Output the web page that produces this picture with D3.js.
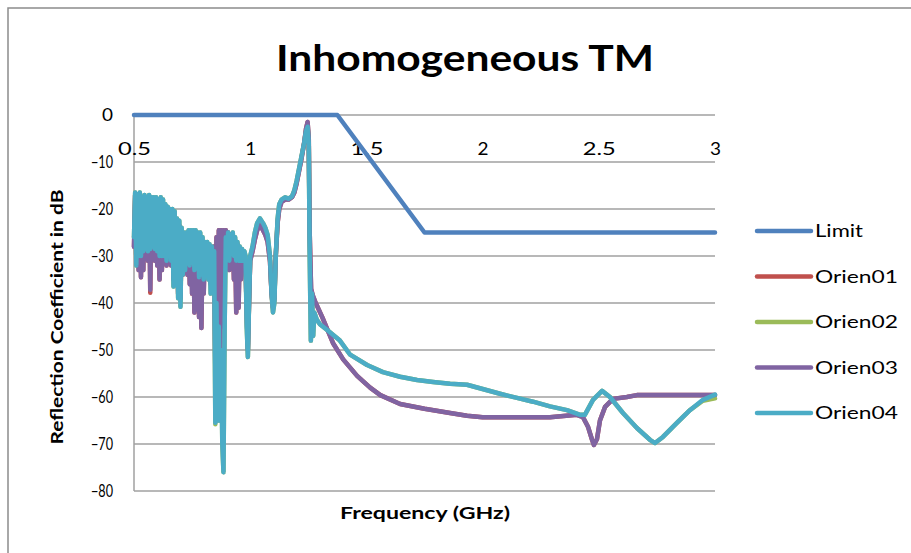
<!DOCTYPE html>
<html>
<head>
<meta charset="utf-8">
<script src="https://cdn.jsdelivr.net/npm/d3@7"></script>
<style>
  body { margin: 0; background: #fff; }
  svg { display: block; font-family: Lato, "Liberation Sans", sans-serif; }
</style>
</head>
<body>
<script>
// chart data
var seriesNames = ["Limit", "Orien01", "Orien02", "Orien03", "Orien04"];
var seriesColors = ["#4f81bd", "#c0504d", "#9bbb59", "#8064a2", "#4bacc6"];
var xTicks = [0.5, 1, 1.5, 2, 2.5, 3];
var yTicks = [0, -10, -20, -30, -40, -50, -60, -70, -80];

var limit = [[0.5, 0], [1.375, 0], [1.75, -25], [3, -25]];

var orien03 = [
  [0.500, -28], [0.505, -17], [0.510, -31], [0.515, -17.5], [0.520, -33], [0.525, -17], [0.530, -34.5], [0.535, -18],
  [0.540, -33], [0.545, -18], [0.550, -30], [0.555, -18], [0.560, -31], [0.565, -17.5], [0.570, -37.2], [0.575, -18],
  [0.580, -30], [0.585, -18], [0.590, -31], [0.595, -18], [0.600, -32], [0.605, -18.5], [0.610, -35], [0.615, -18],
  [0.620, -33], [0.625, -19], [0.630, -31], [0.635, -20], [0.640, -32], [0.645, -20.5], [0.650, -31], [0.655, -21],
  [0.660, -32], [0.665, -21], [0.670, -35], [0.675, -21.5], [0.680, -36], [0.685, -23], [0.690, -38], [0.695, -23.5],
  [0.700, -39], [0.705, -25], [0.710, -34], [0.715, -25.5], [0.720, -33], [0.725, -25.5], [0.730, -34], [0.735, -25],
  [0.740, -36], [0.745, -25], [0.750, -38], [0.755, -25], [0.760, -42], [0.765, -25], [0.770, -40], [0.775, -26],
  [0.780, -43], [0.785, -26], [0.790, -45.3], [0.795, -27], [0.800, -38], [0.805, -27.5], [0.810, -33], [0.815, -27.5],
  [0.820, -34], [0.825, -28], [0.830, -36], [0.835, -28.5], [0.840, -34], [0.845, -28], [0.850, -55], [0.855, -26],
  [0.860, -50], [0.865, -24.5], [0.870, -55], [0.875, -24.5], [0.880, -45], [0.885, -24.5], [0.890, -30], [0.895, -24.5],
  [0.900, -31], [0.905, -25], [0.910, -33], [0.915, -25.5], [0.920, -32], [0.925, -26], [0.930, -35], [0.935, -27],
  [0.940, -42], [0.945, -27.5], [0.950, -41], [0.955, -28.5], [0.960, -35], [0.965, -29], [0.970, -33], [0.975, -30],
  [0.980, -32], [0.985, -42], [0.990, -50], [0.995, -40], [1.000, -31], [1.010, -29], [1.020, -26.5], [1.030, -24.5],
  [1.042, -23.5], [1.055, -24.5], [1.065, -25.5], [1.075, -27], [1.085, -31], [1.092, -38], [1.098, -41], [1.104, -39],
  [1.110, -30], [1.118, -23], [1.125, -20], [1.135, -18.5], [1.150, -18], [1.165, -18], [1.180, -17.5], [1.190, -16.5],
  [1.200, -14.5], [1.210, -12], [1.220, -9.5], [1.232, -6], [1.240, -3], [1.247, -1.5], [1.252, -5], [1.256, -25],
  [1.262, -37], [1.270, -38.5], [1.282, -40], [1.310, -43], [1.356, -48.5], [1.400, -52], [1.460, -55.5], [1.516, -58],
  [1.560, -59.6], [1.645, -61.5], [1.750, -62.5], [1.860, -63.4], [1.933, -64], [2.000, -64.3], [2.150, -64.3], [2.290, -64.3],
  [2.406, -63.8], [2.432, -64.3], [2.454, -66.4], [2.471, -69.1], [2.479, -70.2], [2.492, -69], [2.505, -65], [2.527, -62.1],
  [2.561, -60.4], [2.621, -60], [2.664, -59.6], [2.800, -59.6], [3.000, -59.6]
];

// Orien01 sits almost exactly under Orien03
var orien01 = [
  [0.500, -28], [0.505, -17], [0.510, -31], [0.515, -17.5], [0.520, -33], [0.525, -17], [0.530, -34.5], [0.535, -18],
  [0.540, -33], [0.545, -18], [0.550, -30], [0.555, -18], [0.560, -31], [0.565, -17.5], [0.570, -37.8], [0.575, -18],
  [0.580, -30], [0.585, -18], [0.590, -31], [0.595, -18], [0.600, -32], [0.605, -18.5], [0.610, -35], [0.615, -18],
  [0.620, -33], [0.625, -19], [0.630, -31], [0.635, -20], [0.640, -32], [0.645, -20.5], [0.650, -31], [0.655, -21],
  [0.660, -32], [0.665, -21], [0.670, -35], [0.675, -21.5], [0.680, -36], [0.685, -23], [0.690, -38], [0.695, -23.5],
  [0.700, -39], [0.705, -25], [0.710, -34], [0.715, -25.5], [0.720, -33], [0.725, -25.5], [0.730, -34], [0.735, -25],
  [0.740, -36], [0.745, -25], [0.750, -38], [0.755, -25], [0.760, -42], [0.765, -25], [0.770, -40], [0.775, -26],
  [0.780, -43], [0.785, -26], [0.790, -45.3], [0.795, -27], [0.800, -38], [0.805, -27.5], [0.810, -33], [0.815, -27.5],
  [0.820, -34], [0.825, -28], [0.830, -36], [0.835, -28.5], [0.840, -34], [0.845, -28], [0.850, -55], [0.855, -26],
  [0.860, -50], [0.865, -24.5], [0.870, -55], [0.875, -24.5], [0.880, -45], [0.885, -24.5], [0.890, -30], [0.895, -24.5],
  [0.900, -31], [0.905, -25], [0.910, -33], [0.915, -25.5], [0.920, -32], [0.925, -26], [0.930, -35], [0.935, -27],
  [0.940, -42], [0.945, -27.5], [0.950, -41], [0.955, -28.5], [0.960, -35], [0.965, -29], [0.970, -33], [0.975, -30],
  [0.980, -32], [0.985, -42], [0.990, -50], [0.995, -40], [1.000, -31], [1.010, -29], [1.020, -26.5], [1.030, -24.5],
  [1.042, -23.5], [1.055, -24.5], [1.065, -25.5], [1.075, -27], [1.085, -31], [1.092, -38], [1.098, -41], [1.104, -39],
  [1.110, -30], [1.118, -23], [1.125, -20], [1.135, -18.5], [1.150, -18], [1.165, -18], [1.180, -17.5], [1.190, -16.5],
  [1.200, -14.5], [1.210, -12], [1.220, -9.5], [1.232, -6], [1.240, -3], [1.247, -1.5], [1.252, -5], [1.256, -25],
  [1.262, -37], [1.270, -38.5], [1.282, -40], [1.310, -43], [1.356, -48.5], [1.400, -52], [1.460, -55.5], [1.516, -58],
  [1.560, -59.6], [1.645, -61.5], [1.750, -62.5], [1.860, -63.4], [1.933, -64], [2.000, -64.3], [2.150, -64.3], [2.290, -64.3],
  [2.406, -63.8], [2.432, -64.3], [2.454, -66.4], [2.471, -69.1], [2.479, -70.2], [2.492, -69], [2.505, -65], [2.527, -62.1],
  [2.561, -60.4], [2.621, -60], [2.664, -59.6], [2.800, -59.6], [3.000, -59.6]
];

var orien04 = [
  [0.500, -26], [0.505, -16.5], [0.510, -32], [0.515, -17], [0.520, -30], [0.525, -16.5], [0.530, -30], [0.535, -17.5],
  [0.540, -29], [0.545, -17], [0.550, -28.5], [0.555, -17.5], [0.560, -29], [0.565, -17], [0.570, -28.5], [0.575, -17.5],
  [0.580, -28], [0.585, -17.5], [0.590, -28.5], [0.595, -17.5], [0.600, -29], [0.605, -18], [0.610, -30], [0.615, -17.5],
  [0.620, -30], [0.625, -18], [0.630, -30], [0.635, -19], [0.640, -31], [0.645, -19.5], [0.650, -30], [0.655, -20],
  [0.660, -31], [0.665, -20], [0.670, -36.5], [0.675, -20.5], [0.680, -36], [0.685, -22], [0.690, -39], [0.695, -22.5],
  [0.700, -40.8], [0.705, -24], [0.710, -34], [0.715, -25], [0.720, -33], [0.725, -25], [0.730, -31], [0.735, -24.5],
  [0.740, -32], [0.745, -24.5], [0.750, -30], [0.755, -24.5], [0.760, -33], [0.765, -24.5], [0.770, -32], [0.775, -25],
  [0.780, -34.5], [0.785, -25], [0.790, -33], [0.795, -26], [0.800, -35], [0.805, -27], [0.810, -32], [0.815, -27],
  [0.820, -35], [0.825, -27.5], [0.830, -38], [0.835, -28], [0.840, -36], [0.845, -29], [0.850, -65.5], [0.855, -40],
  [0.860, -65], [0.865, -45], [0.870, -65], [0.875, -50], [0.880, -70], [0.885, -76], [0.890, -45], [0.895, -26],
  [0.900, -30], [0.905, -25], [0.910, -31], [0.915, -25.5], [0.920, -29], [0.925, -25], [0.930, -30], [0.935, -26],
  [0.940, -31], [0.945, -27], [0.950, -31], [0.955, -28], [0.960, -31], [0.965, -28.5], [0.970, -31], [0.975, -29],
  [0.980, -30], [0.985, -45], [0.990, -51.5], [0.995, -40], [1.000, -30], [1.010, -28], [1.020, -25], [1.030, -23],
  [1.042, -22], [1.055, -23], [1.065, -24], [1.075, -25.5], [1.085, -30], [1.092, -38], [1.098, -42], [1.104, -40],
  [1.110, -30], [1.118, -22], [1.125, -19], [1.135, -18], [1.150, -17.5], [1.165, -17.8], [1.180, -17.3], [1.190, -16],
  [1.200, -14], [1.210, -11.5], [1.220, -9], [1.232, -6], [1.240, -3.5], [1.247, -2.5], [1.252, -6], [1.256, -30],
  [1.261, -48], [1.266, -38], [1.271, -47], [1.276, -42], [1.287, -43.6], [1.300, -44.5], [1.330, -45.7], [1.386, -48],
  [1.430, -51], [1.503, -53.2], [1.571, -54.7], [1.645, -55.7], [1.718, -56.4], [1.787, -56.8], [1.860, -57.2], [1.933, -57.4],
  [2.000, -58.3], [2.075, -59.3], [2.148, -60.2], [2.217, -61], [2.290, -62], [2.363, -62.8], [2.420, -63.8], [2.440, -63.8],
  [2.475, -60.6], [2.514, -58.7], [2.548, -60], [2.604, -63.4], [2.664, -66.6], [2.720, -69.1], [2.742, -69.8], [2.776, -68.5],
  [2.836, -65.5], [2.892, -62.8], [2.948, -60.6], [3.000, -59.5]
];

// Orien02 sits almost exactly under Orien04
var orien02 = [
  [0.500, -26], [0.505, -16.5], [0.510, -32], [0.515, -17], [0.520, -30], [0.525, -16.5], [0.530, -30], [0.535, -17.5],
  [0.540, -29], [0.545, -17], [0.550, -28.5], [0.555, -17.5], [0.560, -29], [0.565, -17], [0.570, -28.5], [0.575, -17.5],
  [0.580, -28], [0.585, -17.5], [0.590, -28.5], [0.595, -17.5], [0.600, -29], [0.605, -18], [0.610, -30], [0.615, -17.5],
  [0.620, -30], [0.625, -18], [0.630, -30], [0.635, -19], [0.640, -31], [0.645, -19.5], [0.650, -30], [0.655, -20],
  [0.660, -31], [0.665, -20], [0.670, -36.5], [0.675, -20.5], [0.680, -36], [0.685, -22], [0.690, -39], [0.695, -22.5],
  [0.700, -40.8], [0.705, -24], [0.710, -34], [0.715, -25], [0.720, -33], [0.725, -25], [0.730, -31], [0.735, -24.5],
  [0.740, -32], [0.745, -24.5], [0.750, -30], [0.755, -24.5], [0.760, -33], [0.765, -24.5], [0.770, -32], [0.775, -25],
  [0.780, -34.5], [0.785, -25], [0.790, -33], [0.795, -26], [0.800, -35], [0.805, -27], [0.810, -32], [0.815, -27],
  [0.820, -35], [0.825, -27.5], [0.830, -38], [0.835, -28], [0.840, -36], [0.845, -29], [0.850, -65.8], [0.855, -40],
  [0.860, -65], [0.865, -45], [0.870, -65], [0.875, -50], [0.880, -70], [0.885, -76], [0.890, -45], [0.895, -26],
  [0.900, -30], [0.905, -25], [0.910, -31], [0.915, -25.5], [0.920, -29], [0.925, -25], [0.930, -30], [0.935, -26],
  [0.940, -31], [0.945, -27], [0.950, -31], [0.955, -28], [0.960, -31], [0.965, -28.5], [0.970, -31], [0.975, -29],
  [0.980, -30], [0.985, -45], [0.990, -51.5], [0.995, -40], [1.000, -30], [1.010, -28], [1.020, -25], [1.030, -23],
  [1.042, -22], [1.055, -23], [1.065, -24], [1.075, -25.5], [1.085, -30], [1.092, -38], [1.098, -42], [1.104, -40],
  [1.110, -30], [1.118, -22], [1.125, -19], [1.135, -18], [1.150, -17.5], [1.165, -17.8], [1.180, -17.3], [1.190, -16],
  [1.200, -14], [1.210, -11.5], [1.220, -9], [1.232, -6], [1.240, -3.5], [1.247, -2.5], [1.252, -6], [1.256, -30],
  [1.261, -48], [1.266, -38], [1.271, -47], [1.276, -42], [1.287, -43.6], [1.300, -44.5], [1.330, -45.7], [1.386, -48],
  [1.430, -51], [1.503, -53.2], [1.571, -54.7], [1.645, -55.7], [1.718, -56.4], [1.787, -56.8], [1.860, -57.2], [1.933, -57.4],
  [2.000, -58.3], [2.075, -59.3], [2.148, -60.2], [2.217, -61], [2.290, -62], [2.363, -62.8], [2.420, -63.8], [2.440, -63.8],
  [2.475, -60.6], [2.514, -58.7], [2.548, -60], [2.604, -63.4], [2.664, -66.6], [2.720, -69.1], [2.742, -69.8], [2.776, -68.5],
  [2.836, -65.5], [2.892, -62.8], [2.948, -60.8], [3.000, -60.3]
];

var allSeries = [limit, orien01, orien02, orien03, orien04];
// rough widths of the legend labels in the picture
var legendWidths = [48, 83, 83, 83, 83];

var svgWidth = 911;
var svgHeight = 553;
var margin = { top: 115, right: 196, bottom: 62, left: 134 };
var width = svgWidth - margin.left - margin.right;
var height = svgHeight - margin.top - margin.bottom;

var svg = d3.select("body").append("svg")
    .attr("width", svgWidth)
    .attr("height", svgHeight);

// chart frame
svg.append("rect")
    .attr("x", 8).attr("y", 8)
    .attr("width", 920).attr("height", 560)
    .attr("fill", "none")
    .attr("stroke", "#8c8c8c")
    .attr("stroke-width", 1.5);

var chartGroup = svg.append("g")
    .attr("transform", `translate(${margin.left}, ${margin.top})`);

var xScale = d3.scaleLinear().domain([0.5, 3]).range([0, width]);
var yScale = d3.scaleLinear().domain([-80, 0]).range([height, 0]);

// gridlines
chartGroup.selectAll(".grid")
    .data(yTicks)
    .enter()
    .append("line")
    .attr("class", "grid")
    .attr("x1", 0).attr("x2", width)
    .attr("y1", d => yScale(d)).attr("y2", d => yScale(d))
    .attr("stroke", "#a0a0a0")
    .attr("stroke-width", 1.5);

chartGroup.append("line")
    .attr("x1", 0).attr("x2", 0)
    .attr("y1", 0).attr("y2", height)
    .attr("stroke", "#a0a0a0")
    .attr("stroke-width", 1.5);

// axes
var yAxis = d3.axisLeft(yScale).tickValues(yTicks).tickSize(0).tickPadding(21);
var yg = chartGroup.append("g").call(yAxis);
yg.select(".domain").remove();
yg.selectAll("text")
    .attr("font-size", "18px").attr("font-family", "Lato").attr("fill", "#000")
    .attr("textLength", d => d == 0 ? 11 : 22)
    .attr("lengthAdjust", "spacingAndGlyphs");

var xAxis = d3.axisBottom(xScale).tickValues(xTicks).tickSize(0).tickPadding(27).tickFormat(d3.format(""));
var xg = chartGroup.append("g")
    .attr("transform", `translate(0, ${yScale(0)})`)
    .call(xAxis);
xg.select(".domain").remove();
xg.selectAll("text")
    .attr("font-size", "18px").attr("font-family", "Lato").attr("fill", "#000")
    .attr("textLength", d => Number.isInteger(d) ? 11 : 33)
    .attr("lengthAdjust", "spacingAndGlyphs");

// series lines
var line = d3.line()
    .x(d => xScale(d[0]))
    .y(d => yScale(d[1]));

chartGroup.selectAll(".series")
    .data(allSeries)
    .enter()
    .append("path")
    .attr("class", "series")
    .attr("d", d => line(d))
    .attr("fill", "none")
    .attr("stroke", (d, i) => seriesColors[i])
    .attr("stroke-width", 4.5)
    .attr("stroke-linejoin", "round")
    .attr("stroke-linecap", "round");

// title
svg.append("text")
    .attr("x", 465).attr("y", 71)
    .attr("text-anchor", "middle")
    .attr("font-size", "36px")
    .attr("font-weight", "bold")
    .attr("textLength", 378)
    .attr("lengthAdjust", "spacingAndGlyphs")
    .text("Inhomogeneous TM");

// axis titles
svg.append("text")
    .attr("transform", "rotate(-90)")
    .attr("x", -317).attr("y", 63)
    .attr("text-anchor", "middle")
    .attr("font-size", "17px")
    .attr("font-weight", "bold")
    .attr("textLength", 255)
    .attr("lengthAdjust", "spacingAndGlyphs")
    .text("Reflection Coefficient in dB");

svg.append("text")
    .attr("x", 425).attr("y", 519)
    .attr("text-anchor", "middle")
    .attr("font-size", "17px")
    .attr("font-weight", "bold")
    .attr("textLength", 170)
    .attr("lengthAdjust", "spacingAndGlyphs")
    .text("Frequency (GHz)");

// legend
var legend = svg.append("g").attr("transform", "translate(757, 231)");
var items = legend.selectAll(".item")
    .data(seriesNames)
    .enter()
    .append("g")
    .attr("transform", (d, i) => `translate(0, ${i * 45.5})`);

items.append("line")
    .attr("x1", 0).attr("x2", 54)
    .attr("stroke", (d, i) => seriesColors[i])
    .attr("stroke-width", 4.5)
    .attr("stroke-linecap", "round");

items.append("text")
    .attr("x", 58).attr("y", 6)
    .attr("font-size", "18px")
    .attr("textLength", (d, i) => legendWidths[i])
    .attr("lengthAdjust", "spacingAndGlyphs")
    .text(d => d);
</script>
</body>
</html>
